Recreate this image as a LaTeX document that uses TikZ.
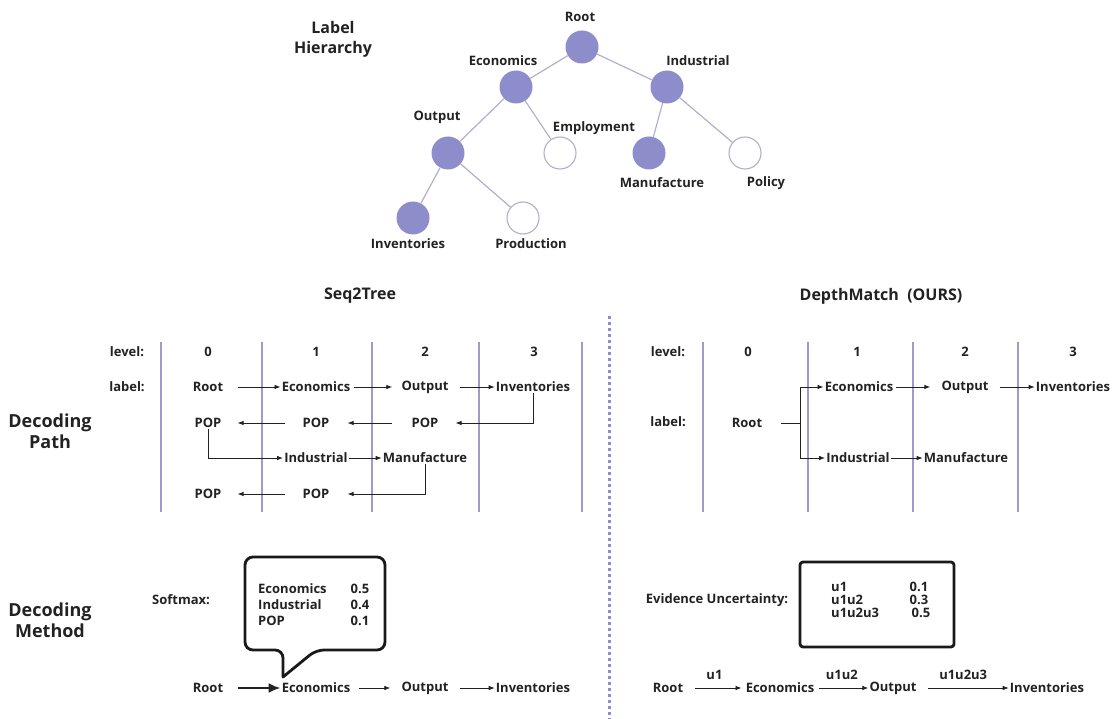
\documentclass[tikz,border=0pt]{standalone}
\usepackage{fontspec}
\setmainfont{Open Sans}
\usetikzlibrary{arrows.meta}
\definecolor{txt}{HTML}{222222}
\definecolor{nodefill}{HTML}{8E8DCB}
\definecolor{edgec}{HTML}{B3AFCB}
\definecolor{vlinec}{HTML}{9E9BCB}
\definecolor{divc}{HTML}{8C8CD6}
\newcommand\myfs[2]{\fontsize{#1}{#2}\selectfont}
\tikzset{
  lbl/.style={text=txt, font=\bfseries\myfs{13}{15}, inner sep=1pt},
  ttl/.style={text=txt, font=\bfseries\myfs{16}{20}, inner sep=1pt, align=center},
  big/.style={text=txt, font=\bfseries\myfs{18}{21}, inner sep=1pt, align=center},
  filled/.style={circle, minimum size=33pt, inner sep=0pt, fill=nodefill},
  empty/.style={circle, minimum size=32pt, inner sep=0pt, draw=edgec, line width=1.1pt, fill=white},
  tedge/.style={draw=edgec, line width=1.2pt},
  vline/.style={draw=vlinec, line width=1.5pt},
  arr/.style={draw=txt, line width=0.8pt, -{Latex[length=6pt,width=4.5pt]}},
  plain/.style={draw=txt, line width=0.8pt},
  thickarr/.style={draw=txt, line width=2.5pt, -{Latex[length=12pt,width=10pt]}},
  boxline/.style={draw=black!90, line width=2.8pt, line join=round}
}
\begin{document}
\begin{tikzpicture}[x=1pt, y=-1pt]
\useasboundingbox (0,0) rectangle (1115,719);

% ---------------- Label hierarchy ----------------
\node[ttl] (lh) at (333,39) {Label\\Hierarchy};

\node[filled] (tRoot) at (582,47) {};
\node[filled] (tEco) at (516,87) {};
\node[filled] (tInd) at (667,87) {};
\node[filled] (tOut) at (448,153) {};
\node[empty] (tEmp) at (560,153) {};
\node[filled] (tMan) at (649,153) {};
\node[empty] (tPol) at (745,153) {};
\node[filled] (tInv) at (413,218) {};
\node[empty] (tPro) at (523,218) {};

\draw[tedge] (tRoot) -- (tEco);
\draw[tedge] (tRoot) -- (tInd);
\draw[tedge] (tEco) -- (tOut);
\draw[tedge] (tEco) -- (tEmp);
\draw[tedge] (tInd) -- (tMan);
\draw[tedge] (tInd) -- (tPol);
\draw[tedge] (tOut) -- (tInv);
\draw[tedge] (tOut) -- (tPro);

\node[lbl] (lRoot) at (580,17) {Root};
\node[lbl] (lEco) at (503,61) {Economics};
\node[lbl] (lInd) at (698,61) {Industrial};
\node[lbl] (lOut) at (437,117) {Output};
\node[lbl] (lEmp) at (594,128) {Employment};
\node[lbl] (lMan) at (662,183) {Manufacture};
\node[lbl] (lPol) at (766,183) {Policy};
\node[lbl] (lInv) at (408,244) {Inventories};
\node[lbl] (lPro) at (531,244) {Production};

% ---------------- Titles ----------------
\node[ttl] (tSeq) at (360,296) {Seq2Tree};
\node[ttl] (tDM) at (881,296) {DepthMatch\ \ (OURS)};
\node[big] (dPath) at (50,431) {Decoding\\Path};
\node[big] (dMeth) at (50,620) {Decoding\\Method};

% divider
\coordinate (divTop) at (609,316);
\coordinate (divBot) at (609,719);
\draw[draw=divc, line width=3pt, dash pattern=on 3pt off 3pt] (divTop) -- (divBot);

% ---------------- Seq2Tree decoding path ----------------
\foreach \x/\n in {161/a,262/b,372/c,479/d,582/e}{
  \coordinate (sv\n t) at (\x,342);
  \coordinate (sv\n b) at (\x,512);
  \draw[vline] (sv\n t) -- (sv\n b);
}
\node[lbl] (sLev) at (127,352) {level:};
\node[lbl] (sLab) at (127,387) {label:};
\node[lbl] (sL0) at (208,352) {0};
\node[lbl] (sL1) at (316,352) {1};
\node[lbl] (sL2) at (425,352) {2};
\node[lbl] (sL3) at (534,352) {3};

\node[lbl] (sRoot) at (208,387) {Root};
\node[lbl] (sEco) at (316,387) {Economics};
\node[lbl] (sOut) at (425,387) {Output};
\node[lbl] (sInv) at (533,387) {Inventories};

\node[lbl] (sP0) at (208,423) {POP};
\node[lbl] (sP1) at (316,423) {POP};
\node[lbl] (sP2) at (425,423) {POP};

\node[lbl] (sInd) at (316,458) {Industrial};
\node[lbl] (sMan) at (425,458) {Manufacture};

\node[lbl] (sQ0) at (208,494) {POP};
\node[lbl] (sQ1) at (316,494) {POP};

\draw[arr, shorten <=14pt] (sRoot) -- (sEco);
\draw[arr, shorten <=3pt, shorten >=8pt] (sEco) -- (sOut);
\draw[arr, shorten <=10pt] (sOut) -- (sInv);
\draw[arr, shorten >=16pt] (sInv.south) |- (sP2.east);
\draw[arr, shorten <=18pt, shorten >=17pt] (sP2) -- (sP1);
\draw[arr, shorten <=16pt, shorten >=15pt] (sP1) -- (sP0);
\draw[arr] (sP0.south) |- (sInd.west);
\draw[arr] (sInd) -- (sMan);
\draw[arr, shorten >=17pt] (sMan.south) |- (sQ1.east);
\draw[arr, shorten <=16pt, shorten >=15pt] (sQ1) -- (sQ0);

% ---------------- DepthMatch decoding path ----------------
\foreach \x/\n in {703/a,808/b,913/c,1018/d}{
  \coordinate (dv\n t) at (\x,342);
  \coordinate (dv\n b) at (\x,512);
  \draw[vline] (dv\n t) -- (dv\n b);
}
\node[lbl] (dLev) at (668,352) {level:};
\node[lbl] (dLab) at (668,422) {label:};
\node[lbl] (dL0) at (748,352) {0};
\node[lbl] (dL1) at (857,352) {1};
\node[lbl] (dL2) at (965,352) {2};
\node[lbl] (dL3) at (1073,352) {3};

\node[lbl] (dRoot) at (747,423) {Root};
\node[lbl] (dEco) at (859,387) {Economics};
\node[lbl] (dOut) at (965,387) {Output};
\node[lbl] (dInv) at (1073,387) {Inventories};
\node[lbl] (dInd) at (858,458) {Industrial};
\node[lbl] (dMan) at (966,458) {Manufacture};

\coordinate (br) at (800,423);
\draw[plain, shorten <=18pt] (dRoot.east) -- (br);
\draw[arr] (br) |- (dEco.west);
\draw[arr] (br) |- (dInd.west);
\draw[arr, shorten <=2pt, shorten >=10pt] (dEco) -- (dOut);
\draw[arr, shorten <=10pt] (dOut) -- (dInv);
\draw[arr] (dInd) -- (dMan);

% ---------------- Softmax decoding method ----------------
\node[lbl] (smx) at (181,600) {Softmax:};
\draw[boxline] (283,677) {[rounded corners=8pt] -- (283,650) -- (245,650) -- (245,557) -- (385,557) -- (385,650) -- (316,650)} -- cycle;
\node[lbl, anchor=west] (cE) at (257,589) {Economics};
\node[lbl, anchor=west] (cI) at (257,605) {Industrial};
\node[lbl, anchor=west] (cP) at (257,621) {POP};
\node[lbl] (cEv) at (360,589) {0.5};
\node[lbl] (cIv) at (360,605) {0.4};
\node[lbl] (cPv) at (360,621) {0.1};

\node[lbl] (bRoot) at (208,688) {Root};
\node[lbl] (bEco) at (316,688) {Economics};
\node[lbl] (bOut) at (425,688) {Output};
\node[lbl] (bInv) at (533,688) {Inventories};
\draw[thickarr, shorten <=14pt] (bRoot) -- (bEco);
\draw[arr, shorten <=8pt, shorten >=10pt] (bEco) -- (bOut);
\draw[arr, shorten <=10pt] (bOut) -- (bInv);

% ---------------- Evidence uncertainty ----------------
\node[lbl] (evu) at (717,600) {Evidence Uncertainty:};
\draw[boxline, rounded corners=3pt] (800,562) rectangle (954,647);
\node[lbl, anchor=west] (u1) at (830,587) {u1};
\node[lbl, anchor=west] (u2) at (830,600) {u1u2};
\node[lbl, anchor=west] (u3) at (830,613) {u1u2u3};
\node[lbl] (u1v) at (919,587) {0.1};
\node[lbl] (u2v) at (919,600) {0.3};
\node[lbl] (u3v) at (921,613) {0.5};

\node[lbl] (eRoot) at (668,688) {Root};
\node[lbl] (eEco) at (780,688) {Economics};
\node[lbl] (eOut) at (893,688) {Output};
\node[lbl] (eInv) at (1047,688) {Inventories};
\draw[arr, shorten <=11pt, shorten >=3pt] (eRoot) -- node[lbl, above=7pt] (eu1) {u1} (eEco);
\draw[arr, shorten <=4pt] (eEco) -- node[lbl, above=7pt] (eu2) {u1u2} (eOut);
\draw[arr, shorten <=10pt] (eOut) -- node[lbl, above=7pt] (eu3) {u1u2u3} (eInv);
\end{tikzpicture}
\end{document}
